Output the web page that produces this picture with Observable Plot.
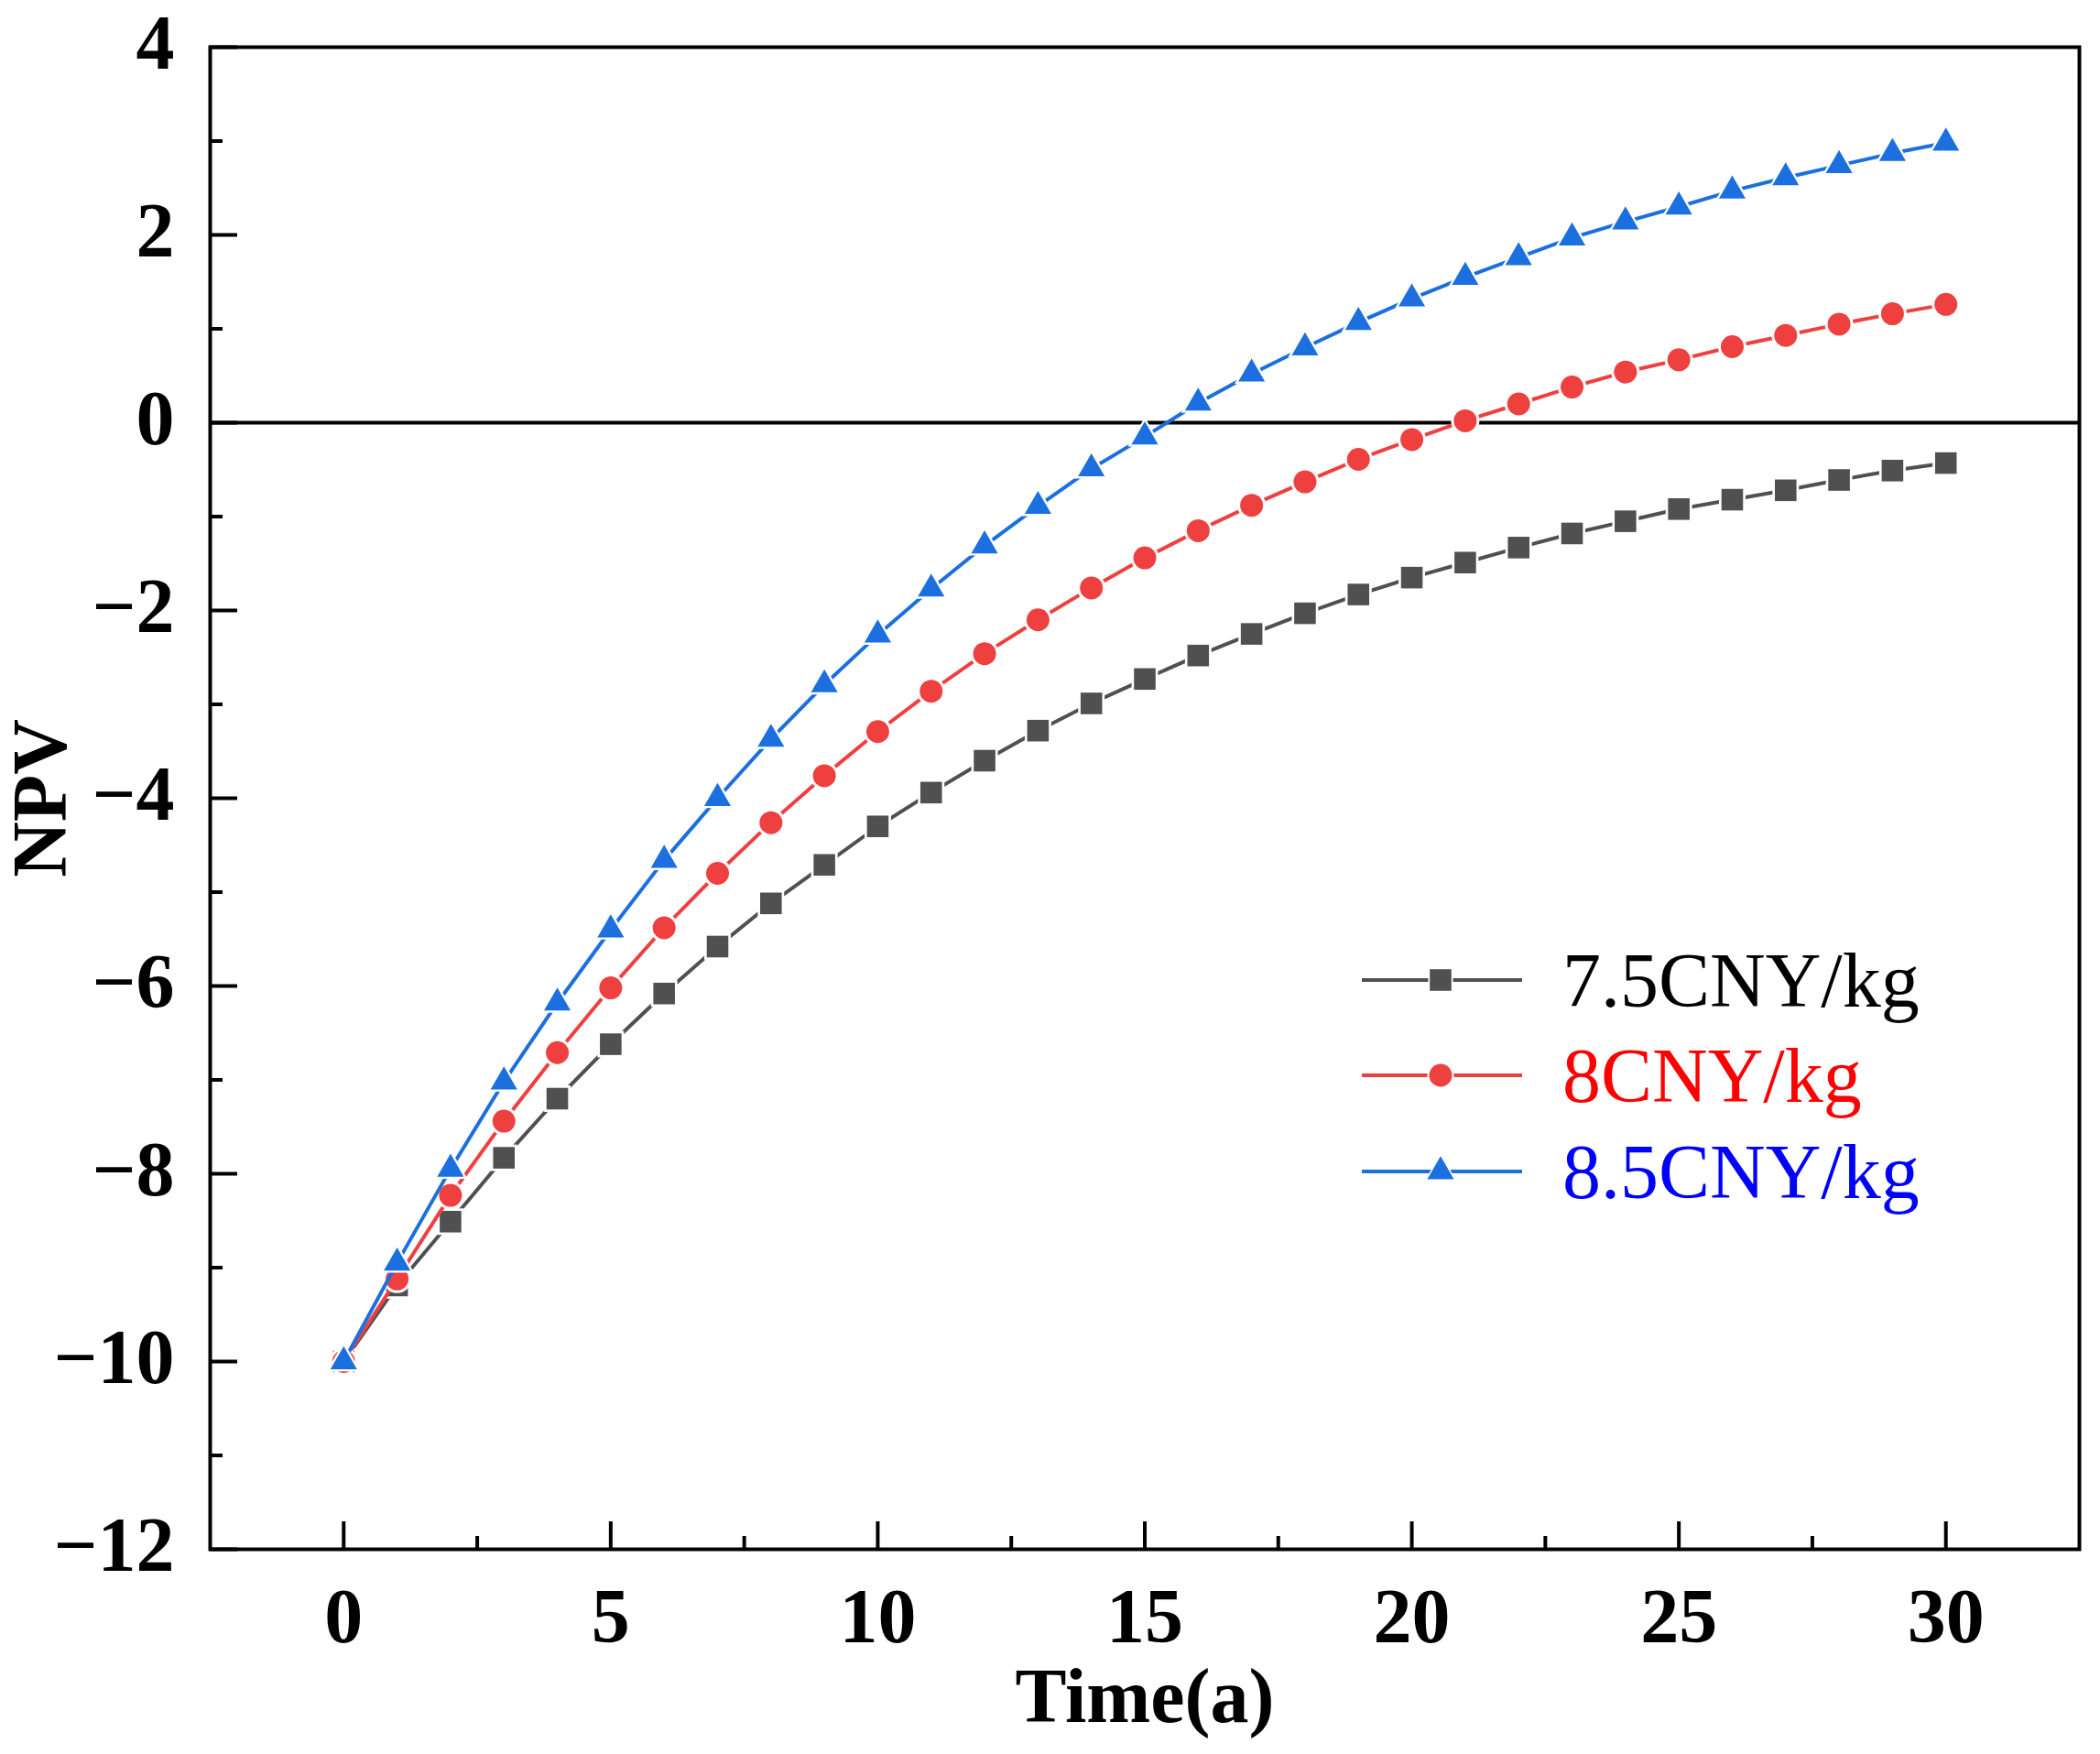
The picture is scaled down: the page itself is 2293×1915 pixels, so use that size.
<!DOCTYPE html>
<html>
<head>
<meta charset="utf-8">
<script src="https://cdn.jsdelivr.net/npm/d3@7"></script>
<script src="https://cdn.jsdelivr.net/npm/@observablehq/plot@0.6"></script>
<style>
  body { margin: 0; background: #fff; }
</style>
</head>
<body>
<div id="chart"></div>
<script>
// time in years
const years = [0, 1, 2, 3, 4, 5, 6, 7, 8, 9, 10, 11, 12, 13, 14, 15, 16, 17, 18, 19, 20, 21, 22, 23, 24, 25, 26, 27, 28, 29, 30];

// NPV for each hydrogen price
const npv75 = [-10, -9.19, -8.51, -7.83, -7.20, -6.62, -6.08, -5.58, -5.12, -4.71, -4.30, -3.94, -3.60, -3.28, -2.99, -2.73, -2.48, -2.25, -2.03, -1.83, -1.65, -1.49, -1.33, -1.18, -1.05, -0.92, -0.82, -0.72, -0.61, -0.51, -0.43];
const npv80 = [-10, -9.12, -8.23, -7.44, -6.71, -6.02, -5.38, -4.80, -4.26, -3.76, -3.29, -2.86, -2.46, -2.10, -1.76, -1.44, -1.15, -0.88, -0.63, -0.39, -0.18, 0.02, 0.20, 0.38, 0.54, 0.67, 0.81, 0.93, 1.05, 1.16, 1.26];
const npv85 = [-10, -8.95, -7.95, -7.02, -6.18, -5.40, -4.66, -4.00, -3.37, -2.79, -2.26, -1.77, -1.31, -0.89, -0.49, -0.15, 0.21, 0.52, 0.80, 1.07, 1.32, 1.55, 1.76, 1.97, 2.14, 2.30, 2.47, 2.61, 2.74, 2.87, 2.98];

const names = ["7.5CNY/kg", "8CNY/kg", "8.5CNY/kg"];

const xTicks = [0, 5, 10, 15, 20, 25, 30];
const xMinor = [2.5, 7.5, 12.5, 17.5, 22.5, 27.5];
const yTicks = [-12, -10, -8, -6, -4, -2, 0, 2, 4];
const yMinor = [-11, -9, -7, -5, -3, -1, 1, 3];

const W = 2293, H = 1915;
const mL = 229, mR = 23, mT = 51, mB = 224;
const innerW = W - mL - mR, innerH = H - mT - mB;
const serif = "'Liberation Serif', 'Times New Roman', serif";

const series = [
  {name: names[0], values: npv75, color: "#505050", text: "#000000", symbol: "square", r: 13.3},
  {name: names[1], values: npv80, color: "#ef4040", text: "#ff0000", symbol: "circle", r: 12.5},
  {name: names[2], values: npv85, color: "#1b6fde", text: "#0000ff", symbol: "triangle", r: 10.8}
];
series.forEach(s => s.rows = years.map((t, i) => ({t: t, v: s.values[i]})));

const minus = d => String(d).replace("-", "\u2212");

// legend drawn in pixels in the lower right of the frame
function legend() {
  const g = d3.create("svg:g");
  const rowY = [1070, 1174, 1279];
  const symbols = {square: d3.symbolSquare, circle: d3.symbolCircle, triangle: d3.symbolTriangle};
  series.forEach((s, i) => {
    const y = rowY[i];
    g.append("line")
      .attr("x1", 1487).attr("x2", 1662).attr("y1", y).attr("y2", y)
      .attr("stroke", s.color).attr("stroke-width", 4);
    g.append("path")
      .attr("transform", `translate(1573,${y})`)
      .attr("d", d3.symbol(symbols[s.symbol], Math.PI * (s.r + 2) ** 2)())
      .attr("fill", "white");
    g.append("path")
      .attr("transform", `translate(1573,${y})`)
      .attr("d", d3.symbol(symbols[s.symbol], Math.PI * s.r ** 2)())
      .attr("fill", s.color);
    g.append("text")
      .attr("x", 1706).attr("y", y + 29)
      .attr("text-anchor", "start")
      .attr("fill", s.text)
      .attr("font-family", serif)
      .attr("font-size", 84)
      .text(s.name);
  });
  return g.node();
}

const marks = [
  Plot.ruleY([0], {stroke: "black", strokeWidth: 4})
];
series.forEach(s => {
  marks.push(Plot.line(s.rows, {x: "t", y: "v", stroke: s.color, strokeWidth: 4}));
  marks.push(Plot.dot(s.rows, {x: "t", y: "v", symbol: s.symbol, r: s.r + 3, fill: "white"}));
  marks.push(Plot.dot(s.rows, {x: "t", y: "v", symbol: s.symbol, r: s.r, fill: s.color}));
});
marks.push(
  // inward ticks
  Plot.tickX(xTicks, {x: d => d, insetTop: innerH - 30, stroke: "black", strokeWidth: 4}),
  Plot.tickX(xMinor, {x: d => d, insetTop: innerH - 14, stroke: "black", strokeWidth: 4}),
  Plot.tickY(yTicks, {y: d => d, insetRight: innerW - 30, stroke: "black", strokeWidth: 4}),
  Plot.tickY(yMinor, {y: d => d, insetRight: innerW - 14, stroke: "black", strokeWidth: 4}),
  Plot.frame({stroke: "black", strokeWidth: 4}),
  // tick labels
  Plot.text(xTicks, {x: d => d, text: d => minus(d), frameAnchor: "bottom", dy: 75,
    textAnchor: "middle", lineAnchor: "middle",
    fontSize: 84, fontWeight: "bold", fill: "black"}),
  Plot.text(yTicks, {y: d => d, text: d => minus(d), frameAnchor: "left", dx: -39, dy: -3,
    textAnchor: "end", lineAnchor: "middle", fontSize: 84, fontWeight: "bold", fill: "black"}),
  // axis titles
  Plot.text(["Time(a)"], {text: d => d, frameAnchor: "bottom", dy: 162,
    textAnchor: "middle", lineAnchor: "middle",
    fontSize: 84, fontWeight: "bold", fill: "black"}),
  Plot.text(["NPV"], {text: d => d, frameAnchor: "left", dx: -184, rotate: -90,
    textAnchor: "middle", lineAnchor: "middle",
    fontSize: 84, fontWeight: "bold", fill: "black"}),
  legend
);

const chart = Plot.plot({
  width: W,
  height: H,
  marginLeft: mL,
  marginRight: mR,
  marginTop: mT,
  marginBottom: mB,
  style: {fontFamily: serif, background: "white"},
  x: {domain: [-2.5, 32.5], axis: null},
  y: {domain: [-12, 4], axis: null},
  marks: marks
});

document.getElementById("chart").appendChild(chart);
</script>
</body>
</html>
